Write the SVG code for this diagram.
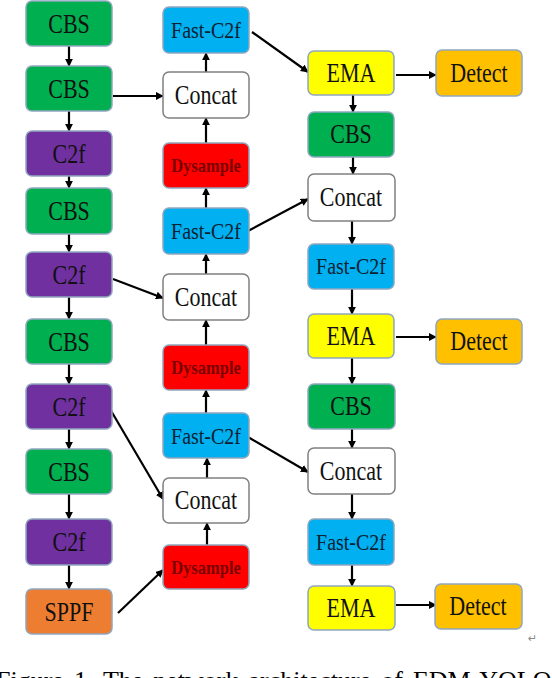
<svg xmlns="http://www.w3.org/2000/svg" width="552" height="678" viewBox="0 0 552 678">
<defs>
<marker id="ah" viewBox="0 0 10 10" refX="9" refY="5" markerWidth="3.6" markerHeight="3.6" orient="auto" markerUnits="strokeWidth">
<path d="M0,0 L10,5 L0,10 z" fill="#000"/>
</marker>
<style>
.n rect{stroke:#8fa6bf;stroke-width:1.5}
.green rect{fill:#00b050}
.purple rect{fill:#7030a0}
.orange rect{fill:#ed7d31}
.blue rect{fill:#00b0f0}
.red rect{fill:#ff0000}
.yellow rect{fill:#ffff00}
.gold rect{fill:#ffc000}
.white rect{fill:#ffffff;stroke:#808080}
.n text{font-size:22px;fill:#111;text-anchor:middle}
.blue text{font-size:20px;fill:#0d2233}
.red text{font-size:16.5px;font-weight:bold;fill:#7a0000}
#conn line{stroke:#000;stroke-width:2.2;marker-end:url(#ah)}
.cap{font-size:26px;fill:#000;word-spacing:3.5px}
</style>
</defs>
<g id="conn">
<line x1="69" y1="46" x2="69" y2="66"/>
<line x1="69" y1="111" x2="69" y2="131"/>
<line x1="69" y1="176" x2="69" y2="188"/>
<line x1="69" y1="234" x2="69" y2="252"/>
<line x1="69" y1="297" x2="69" y2="319"/>
<line x1="69" y1="364" x2="69" y2="384"/>
<line x1="69" y1="429" x2="69" y2="449"/>
<line x1="69" y1="494" x2="69" y2="519"/>
<line x1="69" y1="565" x2="69" y2="589"/>
<line x1="113" y1="96" x2="163" y2="96"/>
<line x1="113" y1="279" x2="163" y2="298"/>
<line x1="110" y1="409" x2="163" y2="499"/>
<line x1="118" y1="613" x2="163" y2="570"/>
<line x1="206" y1="72" x2="206" y2="53"/>
<line x1="206" y1="143" x2="206" y2="118"/>
<line x1="206" y1="208" x2="206" y2="188"/>
<line x1="206" y1="274" x2="206" y2="254"/>
<line x1="206" y1="345" x2="206" y2="320"/>
<line x1="206" y1="413" x2="206" y2="390"/>
<line x1="207" y1="478" x2="207" y2="458"/>
<line x1="207" y1="545" x2="207" y2="523"/>
<line x1="252" y1="32" x2="308" y2="72"/>
<line x1="248" y1="231" x2="308" y2="199"/>
<line x1="248" y1="437" x2="308" y2="472"/>
<line x1="353" y1="95" x2="353" y2="112"/>
<line x1="353" y1="157" x2="353" y2="174"/>
<line x1="352" y1="221" x2="352" y2="244"/>
<line x1="352" y1="289" x2="352" y2="314"/>
<line x1="352" y1="358" x2="352" y2="384"/>
<line x1="352" y1="429" x2="352" y2="448"/>
<line x1="352" y1="494" x2="352" y2="519"/>
<line x1="352" y1="565" x2="352" y2="586"/>
<line x1="396" y1="75" x2="436" y2="75"/>
<line x1="396" y1="337" x2="436" y2="337"/>
<line x1="396" y1="605" x2="436" y2="605"/>
</g>
<g font-family="'Liberation Serif', Tinos, 'Times New Roman', Times, 'DejaVu Serif', serif">
<g id="cbs1" class="n green"><rect x="26" y="1" width="86" height="45" rx="6"/><text transform="translate(69,32.5) scale(1,1.2)">CBS</text></g>
<g id="cbs2" class="n green"><rect x="26" y="66" width="86" height="45" rx="6"/><text transform="translate(69,97.5) scale(1,1.2)">CBS</text></g>
<g id="c2f1" class="n purple"><rect x="26" y="131" width="86" height="45" rx="6"/><text transform="translate(69,162.5) scale(1,1.2)">C2f</text></g>
<g id="cbs3" class="n green"><rect x="26" y="188" width="86" height="46" rx="6"/><text transform="translate(69,220) scale(1,1.2)">CBS</text></g>
<g id="c2f2" class="n purple"><rect x="26" y="252" width="86" height="45" rx="6"/><text transform="translate(69,283.5) scale(1,1.2)">C2f</text></g>
<g id="cbs4" class="n green"><rect x="26" y="319" width="86" height="45" rx="6"/><text transform="translate(69,350.5) scale(1,1.2)">CBS</text></g>
<g id="c2f3" class="n purple"><rect x="26" y="384" width="86" height="45" rx="6"/><text transform="translate(69,415.5) scale(1,1.2)">C2f</text></g>
<g id="cbs5" class="n green"><rect x="26" y="449" width="86" height="45" rx="6"/><text transform="translate(69,480.5) scale(1,1.2)">CBS</text></g>
<g id="c2f4" class="n purple"><rect x="26" y="519" width="86" height="46" rx="6"/><text transform="translate(69,551) scale(1,1.2)">C2f</text></g>
<g id="sppf" class="n orange"><rect x="26" y="589" width="86" height="45" rx="6"/><text transform="translate(69,620.5) scale(1,1.2)">SPPF</text></g>
<g id="fc1" class="n blue"><rect x="163" y="7" width="86" height="46" rx="6"/><text transform="translate(206,38) scale(1,1.2)">Fast-C2f</text></g>
<g id="concat1" class="n white"><rect x="163" y="72" width="86" height="46" rx="6"/><text transform="translate(206,103.5) scale(1,1.2)">Concat</text></g>
<g id="dys1" class="n red"><rect x="163" y="143" width="86" height="45" rx="6"/><text transform="translate(206,172) scale(1,1.2)">Dysample</text></g>
<g id="fc2" class="n blue"><rect x="163" y="208" width="86" height="46" rx="6"/><text transform="translate(206,239) scale(1,1.2)">Fast-C2f</text></g>
<g id="concat2" class="n white"><rect x="163" y="274" width="86" height="46" rx="6"/><text transform="translate(206,305.5) scale(1,1.2)">Concat</text></g>
<g id="dys2" class="n red"><rect x="163" y="345" width="86" height="45" rx="6"/><text transform="translate(206,374) scale(1,1.2)">Dysample</text></g>
<g id="fc3" class="n blue"><rect x="163" y="413" width="86" height="45" rx="6"/><text transform="translate(206,443.5) scale(1,1.2)">Fast-C2f</text></g>
<g id="concat3" class="n white"><rect x="163" y="478" width="86" height="45" rx="6"/><text transform="translate(206,509) scale(1,1.2)">Concat</text></g>
<g id="dys3" class="n red"><rect x="163" y="545" width="86" height="44" rx="6"/><text transform="translate(206,573.5) scale(1,1.2)">Dysample</text></g>
<g id="ema1" class="n yellow"><rect x="308" y="51" width="86" height="44" rx="6"/><text transform="translate(351,81.5) scale(1,1.2)">EMA</text></g>
<g id="cbs6" class="n green"><rect x="308" y="112" width="86" height="45" rx="6"/><text transform="translate(351,143) scale(1,1.2)">CBS</text></g>
<g id="concat4" class="n white"><rect x="308" y="174" width="87" height="47" rx="6"/><text transform="translate(351,206) scale(1,1.2)">Concat</text></g>
<g id="fc4" class="n blue"><rect x="308" y="244" width="86" height="45" rx="6"/><text transform="translate(351,274) scale(1,1.2)">Fast-C2f</text></g>
<g id="ema2" class="n yellow"><rect x="308" y="314" width="86" height="44" rx="6"/><text transform="translate(351,344.5) scale(1,1.2)">EMA</text></g>
<g id="cbs7" class="n green"><rect x="308" y="384" width="87" height="45" rx="6"/><text transform="translate(351,415) scale(1,1.2)">CBS</text></g>
<g id="concat5" class="n white"><rect x="308" y="448" width="87" height="46" rx="6"/><text transform="translate(351,479.5) scale(1,1.2)">Concat</text></g>
<g id="fc5" class="n blue"><rect x="308" y="519" width="86" height="46" rx="6"/><text transform="translate(351,549.5) scale(1,1.2)">Fast-C2f</text></g>
<g id="ema3" class="n yellow"><rect x="308" y="586" width="87" height="44" rx="6"/><text transform="translate(351,616.5) scale(1,1.2)">EMA</text></g>
<g id="det1" class="n gold"><rect x="436" y="50" width="86" height="46" rx="6"/><text transform="translate(479,81.5) scale(1,1.2)">Detect</text></g>
<g id="det2" class="n gold"><rect x="436" y="319" width="86" height="45" rx="6"/><text transform="translate(479,350) scale(1,1.2)">Detect</text></g>
<g id="det3" class="n gold"><rect x="435" y="584" width="87" height="45" rx="6"/><text transform="translate(478,615) scale(1,1.2)">Detect</text></g>
<text class="cap" x="-4" y="689">Figure 1. The network architecture of EDM-YOLO</text>
</g>
<text x="528" y="642" font-family="'DejaVu Sans', sans-serif" font-size="11" fill="#888">↵</text>
</svg>
